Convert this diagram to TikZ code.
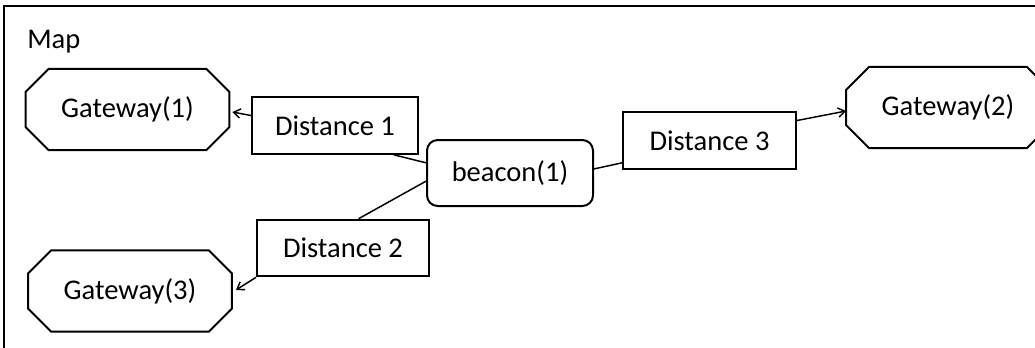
\documentclass[tikz,border=0pt]{standalone}
\usepackage{fontspec}
\setmainfont{Carlito}
\usetikzlibrary{arrows.meta,calc}
\newcommand\myoctagon[1]{%
  \draw[line width=1.5pt, line join=miter]
    ($(#1.north west)+(23,0)$) -- ($(#1.north east)+(-23,0)$) -- ($(#1.north east)+(0,23)$)
    -- ($(#1.south east)+(0,-23)$) -- ($(#1.south east)+(-23,0)$) -- ($(#1.south west)+(23,0)$)
    -- ($(#1.south west)+(0,-23)$) -- ($(#1.north west)+(0,23)$) -- cycle;}
\begin{document}
\begin{tikzpicture}[x=0.75pt,y=-0.75pt,
  every node/.style={font=\fontsize{21.4}{25}\selectfont, inner sep=0pt},
  gate/.style={rectangle, minimum width=152.5pt, minimum height=60.5pt},
  dist/.style={rectangle, draw, line width=1.5pt, minimum height=42.5pt},
  beaconbox/.style={rectangle, rounded corners=8pt, draw, line width=1.5pt, minimum width=124.5pt, minimum height=49.5pt},
  conn/.style={line width=1.1pt},
  arr/.style={conn, -{Straight Barb[length=5pt,width=7pt]}}]
\useasboundingbox (0,0) rectangle (1035,347);
\clip (0,0) rectangle (1035,347);
\draw[line width=1.5pt] (4,400) -- (4,6) -- (1100,6);
\node[anchor=base west] (map) at (27,48) {Map};
\node[gate] (g1) at (127.5,109.5) {Gateway(1)};
\node[gate] (g3) at (130,291) {Gateway(3)};
\node[gate] (g2) at (948,107.5) {Gateway(2)};
\myoctagon{g1}
\myoctagon{g3}
\myoctagon{g2}
\node[dist, minimum width=124.5pt] (d1) at (335,125.5) {Distance 1};
\node[dist, minimum width=129.5pt] (d3) at (709.5,140.5) {Distance 3};
\node[dist, minimum width=129pt] (d2) at (343,248) {Distance 2};
\node[beaconbox] (b) at (510,173) {beacon(1)};
% connectors
\draw[arr] ($(d1.north west)!0.33!(d1.south west)$) -- ($(g1.east)+(3,2.5)$);
\draw[conn] ($(b.north west)!0.35!(b.south west)$) -- ($(d1.south west)!0.85!(d1.south east)$);
\draw[conn] ($(b.north west)!0.62!(b.south west)$) -- ($(d2.north west)!0.59!(d2.north east)$);
\draw[arr] (d2.south west) -- ($(g3.east)+(4,-1)$);
\draw[conn] ($(b.north east)!0.44!(b.south east)$) -- ($(d3.north west)!0.88!(d3.south west)$);
\draw[arr] ($(d3.north east)!0.16!(d3.south east)$) -- ($(g2.west)+(0,3.5)$);
\end{tikzpicture}
\end{document}
